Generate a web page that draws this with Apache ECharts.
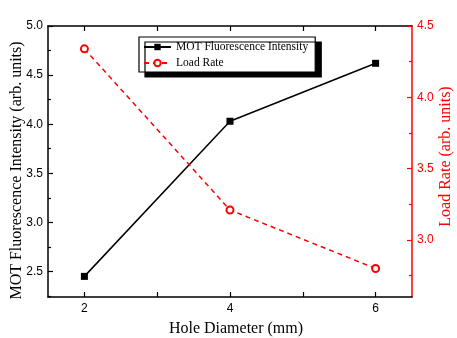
<!DOCTYPE html>
<html>
<head>
<meta charset="utf-8">
<script src="https://cdn.jsdelivr.net/npm/echarts@6/dist/echarts.min.js"></script>
<style>
  html, body { margin: 0; padding: 0; background: #fff; }
  #chart { width: 457px; height: 338px; }
</style>
</head>
<body>
<div id="chart"></div>
<script>
// data
var holeDiameter = [2, 4, 6];
var fluorescence = [2.45, 4.03, 4.62];
var loadRate = [4.34, 3.21, 2.80];

// ticks / labels
var xTicks = [2, 3, 4, 5, 6];
var xLabels = [2, 4, 6];
var leftMajor = [2.5, 3.0, 3.5, 4.0, 4.5, 5.0];
var leftMinor = [2.25, 2.75, 3.25, 3.75, 4.25, 4.75];
var rightMajor = [3.0, 3.5, 4.0, 4.5];
var rightMinor = [2.75, 3.25, 3.75, 4.25];

var RED = '#ff0000';
var serif = '"Liberation Serif", "DejaVu Serif", serif';
var sans = '"Liberation Sans", Arial, sans-serif';

var chart = echarts.init(document.getElementById('chart'));

function pairs(ys) {
    return holeDiameter.map(function (x, i) { return [x, ys[i]]; });
}

var xBase = {
    type: 'value', min: 1.5, max: 6.5,
    splitLine: { show: false },
    axisLine: { onZero: false, lineStyle: { color: '#000', width: 1.5 } },
    axisTick: { inside: true, length: 5, customValues: xTicks, lineStyle: { color: '#000', width: 1.2 } }
};

chart.setOption({
    animation: false,
    backgroundColor: '#fff',
    grid: { left: 48, right: 45, top: 26, bottom: 41, outerBoundsMode: 'none', containLabel: false },
    legend: {
        left: 139, top: 37,
        orient: 'vertical',
        itemWidth: 27, itemHeight: 8, itemGap: 4,
        padding: [4, 7, 3, 4],
        backgroundColor: '#fff',
        borderColor: '#000', borderWidth: 1.2, borderRadius: 0,
        shadowColor: '#000', shadowBlur: 0, shadowOffsetX: 6, shadowOffsetY: 5,
        textStyle: { fontFamily: serif, fontSize: 11.5, color: '#000' },
        data: ['MOT Fluorescence Intensity', 'Load Rate']
    },
    xAxis: [
        Object.assign({}, xBase, {
            position: 'bottom',
            name: 'Hole Diameter (mm)', nameLocation: 'middle', nameGap: 24,
            nameTextStyle: { fontFamily: serif, fontSize: 16, color: '#000', padding: [0, 0, 0, 12] },
            axisLabel: { customValues: xLabels, margin: 6, fontFamily: sans, fontSize: 12, color: '#000' }
        }),
        Object.assign({}, xBase, {
            position: 'top',
            axisLabel: { show: false }
        })
    ],
    yAxis: [
        {
            type: 'value', position: 'left', min: 2.24, max: 5.0,
            splitLine: { show: false },
            name: 'MOT Fluorescence Intensity (arb. units)', nameLocation: 'middle', nameGap: 23, nameRotate: 90,
            nameMoveOverlap: false,
            nameTextStyle: { fontFamily: serif, fontSize: 16, color: '#000', padding: [0, 18, 0, 0] },
            axisLine: { show: true, onZero: false, lineStyle: { color: '#000', width: 1.5 } },
            axisTick: { inside: true, length: 5, customValues: leftMajor, lineStyle: { color: '#000', width: 1.2 } },
            axisLabel: {
                customValues: leftMajor, margin: 5, fontFamily: sans, fontSize: 12, color: '#000',
                formatter: function (v) { return v.toFixed(1); }
            }
        },
        {
            type: 'value', position: 'right', min: 2.6, max: 4.5,
            splitLine: { show: false },
            name: 'Load Rate (arb. units)', nameLocation: 'middle', nameGap: 26, nameRotate: 90,
            nameMoveOverlap: false,
            nameTextStyle: { fontFamily: serif, fontSize: 16, color: RED, padding: [0, 0, 0, 10] },
            axisLine: { show: true, onZero: false, lineStyle: { color: RED, width: 1.5 } },
            axisTick: { inside: true, length: 5, customValues: rightMajor, lineStyle: { color: RED, width: 1.2 } },
            axisLabel: {
                customValues: rightMajor, margin: 5, fontFamily: sans, fontSize: 12, color: RED,
                formatter: function (v) { return v.toFixed(1); }
            }
        },
        {
            type: 'value', position: 'left', min: 2.24, max: 5.0,
            splitLine: { show: false },
            axisLine: { show: false },
            axisTick: { inside: true, length: 3, customValues: leftMinor, lineStyle: { color: '#000', width: 1.2 } },
            axisLabel: { show: false }
        },
        {
            type: 'value', position: 'right', min: 2.6, max: 4.5,
            splitLine: { show: false },
            axisLine: { show: false },
            axisTick: { inside: true, length: 3, customValues: rightMinor, lineStyle: { color: RED, width: 1.2 } },
            axisLabel: { show: false }
        }
    ],
    series: [
        {
            name: 'MOT Fluorescence Intensity',
            type: 'line', xAxisIndex: 0, yAxisIndex: 0,
            data: pairs(fluorescence),
            symbol: 'rect', symbolSize: 7,
            lineStyle: { color: '#000', width: 1.5 },
            itemStyle: { color: '#000' }
        },
        {
            name: 'Load Rate',
            type: 'line', xAxisIndex: 0, yAxisIndex: 1,
            data: pairs(loadRate),
            symbol: 'emptyCircle', symbolSize: 7,
            lineStyle: { color: RED, width: 1.5, type: [5, 4] },
            itemStyle: { color: RED, borderWidth: 1.5 }
        }
    ]
});
</script>
</body>
</html>
